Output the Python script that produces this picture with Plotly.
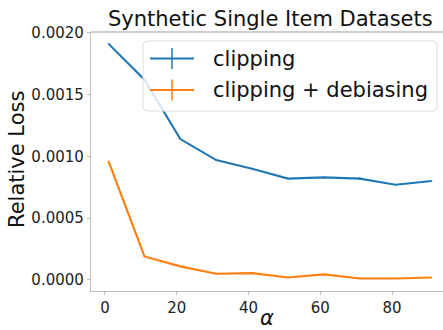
import plotly.graph_objects as go

# ---- data ----
alpha = [1, 11, 21, 31, 41, 51, 61, 71, 81, 91]
clipping = [0.00191, 0.00162, 0.00114, 0.00097, 0.00090, 0.00082, 0.00083, 0.00082, 0.00077, 0.00080]
clipping_err = [0.000005, 0.000005, 0.000005, 0.000005, 0.000005, 0.000005, 0.000005, 0.00001, 0.000005, 0.000005]
debiasing = [0.00096, 0.00019, 0.00011, 0.00005, 0.000055, 0.00002, 0.000045, 0.000012, 0.000012, 0.00002]
debiasing_err = [0.000005] * 10
series_names = ["clipping", "clipping + debiasing"]
colors = ["#1f77b4", "#ff7f0e"]
y_ticks = [0.0, 0.0005, 0.0010, 0.0015, 0.0020]
y_tick_text = ["0.0000", "0.0005", "0.0010", "0.0015", "0.0020"]
x_ticks = [0, 20, 40, 60, 80]

W, H = 443, 330
L, R, T, B = 91, 0, 32, 39
PW, PH = W - L - R, H - T - B


def xp(px):
    return (px - L) / PW


def yp(py):
    return 1 - (py - T) / PH


FONT = "DejaVu Sans"

fig = go.Figure()
for ys, es, c in [(clipping, clipping_err, colors[0]), (debiasing, debiasing_err, colors[1])]:
    fig.add_trace(go.Scatter(
        x=alpha, y=ys, mode="lines",
        line=dict(color=c, width=2.1),
        error_y=dict(type="data", array=es, visible=True, color=c, thickness=1.5, width=0),
        showlegend=False,
    ))

axis_common = dict(
    showgrid=False, zeroline=False, showline=True, linecolor="#bdbdbd", linewidth=1.3,
    ticks="outside", ticklen=3, tickcolor="#bdbdbd", tickwidth=1,
    tickfont=dict(family=FONT, size=15, color="#222"),
)
fig.update_xaxes(range=[-3.9, 94.2], tickvals=x_ticks, **axis_common)
fig.update_yaxes(range=[-0.0000892, 0.002006], tickvals=y_ticks, ticktext=y_tick_text, **axis_common)

shapes = []
# top spine
shapes.append(dict(type="line", xref="paper", yref="paper", x0=0, x1=1, y0=1, y1=1,
                   line=dict(color="#bdbdbd", width=1.3)))

# legend box (rounded)
bx0, bx1, by0, by1, r = 143, 437, 41, 111, 4
rx, ry = r / PW, r / PH
X0, X1, Y0, Y1 = xp(bx0), xp(bx1), yp(by1), yp(by0)
path = (f"M {X0+rx},{Y0} L {X1-rx},{Y0} Q {X1},{Y0} {X1},{Y0+ry} L {X1},{Y1-ry} "
        f"Q {X1},{Y1} {X1-rx},{Y1} L {X0+rx},{Y1} Q {X0},{Y1} {X0},{Y1-ry} "
        f"L {X0},{Y0+ry} Q {X0},{Y0} {X0+rx},{Y0} Z")
shapes.append(dict(type="path", xref="paper", yref="paper", path=path,
                   fillcolor="rgba(255,255,255,0.8)", line=dict(color="#dddddd", width=1)))

annotations = []
rows = [58.5, 90]
for name, c, ry_ in zip(series_names, colors, rows):
    shapes.append(dict(type="line", xref="paper", yref="paper", x0=xp(150), x1=xp(194),
                       y0=yp(ry_), y1=yp(ry_), line=dict(color=c, width=2.1)))
    shapes.append(dict(type="line", xref="paper", yref="paper", x0=xp(172), x1=xp(172),
                       y0=yp(ry_ - 10.5), y1=yp(ry_ + 10.5), line=dict(color=c, width=1.5)))
    annotations.append(dict(xref="paper", yref="paper", x=xp(211), y=yp(ry_), text=name,
                            showarrow=False, xanchor="left", yanchor="middle",
                            font=dict(family=FONT, size=21, color="#111")))

# title
annotations.append(dict(xref="paper", yref="paper", x=xp(270), y=yp(19), text="Synthetic Single Item Datasets",
                        showarrow=False, xanchor="center", yanchor="middle",
                        font=dict(family=FONT, size=21, color="#111")))
# y label
annotations.append(dict(xref="paper", yref="paper", x=xp(17), y=yp(160), text="Relative Loss",
                        showarrow=False, xanchor="center", yanchor="middle", textangle=-90,
                        font=dict(family=FONT, size=21, color="#111")))
# x label
annotations.append(dict(xref="paper", yref="paper", x=xp(267), y=yp(318), text="<i>α</i>",
                        showarrow=False, xanchor="center", yanchor="middle",
                        font=dict(family=FONT, size=21, color="#111")))

fig.update_layout(
    width=W, height=H, margin=dict(l=L, r=R, t=T, b=B, pad=0),
    paper_bgcolor="white", plot_bgcolor="white",
    shapes=shapes, annotations=annotations, showlegend=False,
)
fig.write_html("out.html")
